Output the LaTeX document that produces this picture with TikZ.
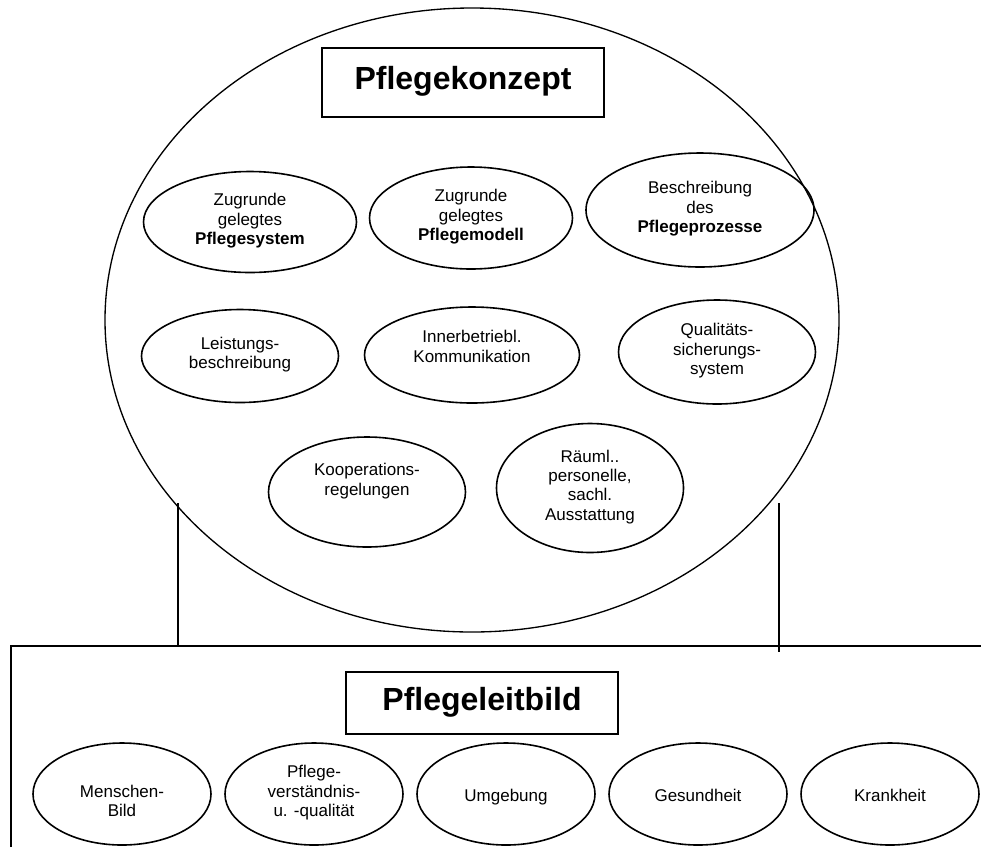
\documentclass[tikz,border=0pt]{standalone}
\usepackage{fontspec}
\setmainfont{Liberation Sans}
\usetikzlibrary{shapes.geometric}

\begin{document}
\begin{tikzpicture}[x=0.75pt, y=-0.75pt, line width=1.2pt,
    every node/.style={font=\fontsize{12.75}{14.6}\selectfont, align=center, inner sep=0pt,
      execute at begin node=\strut, execute at end node=\strut},
    teil/.style={draw, ellipse},
    titel/.style={draw, line width=1.5pt, font=\fontsize{24}{28}\selectfont\bfseries}]
  \useasboundingbox (0,0) rectangle (981,847);

  % 1. The big ellipse with its title
  \node[teil, line width=1pt, minimum width=550.5pt, minimum height=468pt] (konzept) at (472,320) {};
  \node[titel, minimum width=211.5pt, minimum height=51.75pt] (konzepttitel) at (463,82.5) {Pflegekonzept};

  % 2. Parts of the concept
  \node[teil, minimum width=159.75pt, minimum height=75.75pt] (system) at (250,222)
    {Zugrunde\\gelegtes\\\textbf{Pflegesystem}};
  \node[teil, minimum width=152.25pt, minimum height=76.5pt] (modell) at (471,218)
    {Zugrunde\\gelegtes\\\textbf{Pflegemodell}};
  \node[teil, minimum width=171pt, minimum height=85.5pt] (prozess) at (700,210)
    {Beschreibung\\des\\\textbf{Pflegeprozesse}};
  \node[teil, minimum width=147.75pt, minimum height=69.75pt] (leistung) at (240,356)
    {Leistungs-\\beschreibung};
  \node[teil, minimum width=161.25pt, minimum height=72pt] (kommunikation) at (472,355)
    {Innerbetriebl.\\Kommunikation\\[-6pt]};
  \node[teil, minimum width=147.75pt, minimum height=78pt] (qualitaet) at (717,352)
    {Qualitäts-\\sicherungs-\\system};
  \node[teil, minimum width=147.75pt, minimum height=82.5pt] (kooperation) at (367,492)
    {Kooperations-\\regelungen\\\mbox{}};
  \node[teil, minimum width=140.25pt, minimum height=96.75pt] (ausstattung) at (590,488)
    {Räuml..\\personelle,\\sachl.\\Ausstattung};

  % 3. Frame of the Leitbild and the two links
  \coordinate (ecke) at (11,646);
  \coordinate (linksoben) at (178,503);
  \coordinate (rechtsoben) at (779,503);
  \draw[line width=1pt] (11,847) -- (ecke) -- (981,646);
  \draw[line width=0.8pt] (linksoben) -- (linksoben |- ecke);
  \draw[line width=0.8pt] (rechtsoben) -- ++(0,149);

  % 4. Leitbild title and its parts
  \node[titel, minimum width=204pt, minimum height=46.5pt] (leitbild) at (482,703) {Pflegeleitbild};
  \node[teil, minimum width=133.5pt, minimum height=76.5pt] (mensch) at (122,794) {\vphantom{Pflege-}\\Menschen-\\Bild};
  \node[teil, minimum width=133.5pt, minimum height=76.5pt] (verstaendnis) at (314,794) {Pflege-\\verständnis-\\u. -qualität};
  \node[teil, minimum width=133.5pt, minimum height=76.5pt] (umgebung) at (506,794) {\raisebox{-3pt}{Umgebung}};
  \node[teil, minimum width=133.5pt, minimum height=76.5pt] (gesundheit) at (698,794) {\raisebox{-3pt}{Gesundheit}};
  \node[teil, minimum width=133.5pt, minimum height=76.5pt] (krankheit) at (890,794) {\raisebox{-3pt}{Krankheit}};
\end{tikzpicture}
\end{document}
